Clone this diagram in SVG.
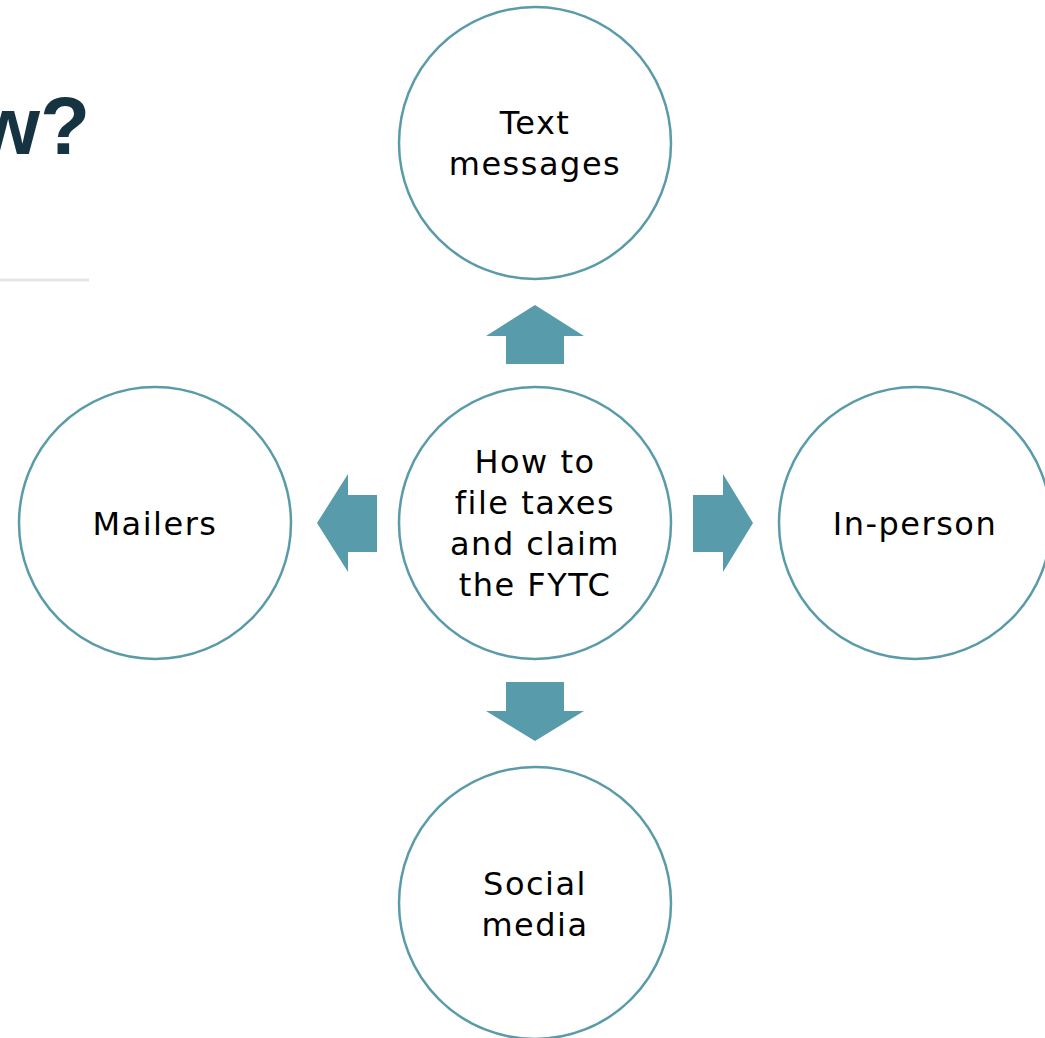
<svg xmlns="http://www.w3.org/2000/svg" width="1045" height="1038" viewBox="0 0 1045 1038">
<style>
.node circle{fill:#ffffff;stroke:#5a9ba9;stroke-width:2.5}
.node text{font-family:"DejaVu Sans","Liberation Sans",sans-serif;font-size:32px;fill:#000000;text-anchor:middle;letter-spacing:1.5px}
.arrow{fill:#589cac}
.title{font-family:"Liberation Sans","DejaVu Sans",sans-serif;font-weight:bold;font-size:82px;fill:#163342}
</style>
<rect width="1045" height="1038" fill="#ffffff"/>
<text class="title" x="90" y="154" text-anchor="end">w?</text>
<line x1="0" y1="280" x2="89" y2="280" stroke="#e6e6e6" stroke-width="3"/>
<g id="connectors">
<path class="arrow" d="M535,305 L584,336 L564,336 L564,364 L506,364 L506,336 L486,336 Z"/>
<path class="arrow" d="M535,741 L584,711 L564,711 L564,682 L506,682 L506,711 L486,711 Z"/>
<path class="arrow" d="M317,523 L348,474 L348,495 L377,495 L377,552 L348,552 L348,572 Z"/>
<path class="arrow" d="M753,523 L723,474 L723,495 L693,495 L693,552 L723,552 L723,572 Z"/>
</g>
<g id="center" class="node">
<circle cx="535" cy="523" r="136"/>
<text x="535" y="473">How to</text>
<text x="535" y="514">file taxes</text>
<text x="535" y="555">and claim</text>
<text x="535" y="596">the FYTC</text>
</g>
<g id="text-messages" class="node">
<circle cx="535" cy="143" r="136"/>
<text x="535" y="134">Text</text>
<text x="535" y="175">messages</text>
</g>
<g id="mailers" class="node">
<circle cx="155" cy="523" r="136"/>
<text x="155" y="535">Mailers</text>
</g>
<g id="in-person" class="node">
<circle cx="915" cy="523" r="136"/>
<text x="915" y="535">In-person</text>
</g>
<g id="social-media" class="node">
<circle cx="535" cy="903" r="136"/>
<text x="535" y="895">Social</text>
<text x="535" y="936">media</text>
</g>
</svg>
